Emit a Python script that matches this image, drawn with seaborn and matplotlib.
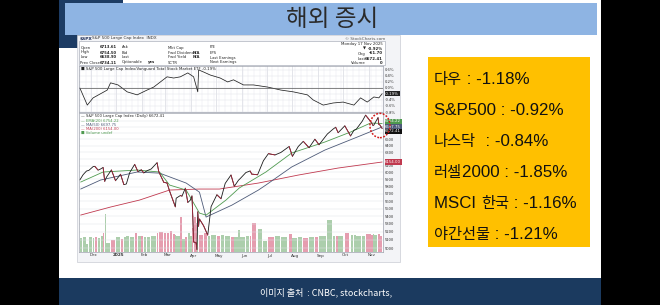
import re
import numpy as np
import pandas as pd
import matplotlib
matplotlib.use("Agg")
import matplotlib.pyplot as plt
import matplotlib.dates as mdates
from matplotlib.patches import Rectangle, Ellipse
from matplotlib.ticker import FixedLocator, NullLocator, FuncFormatter
import matplotlib.transforms as mtransforms
import seaborn as sns

# ---------------- data ----------------
price_dates = ["2024-11-18", "2024-11-22", "2024-11-26", "2024-11-29", "2024-12-04", "2024-12-06",
               "2024-12-10", "2024-12-13", "2024-12-16", "2024-12-18", "2024-12-20", "2024-12-26",
               "2024-12-31", "2025-01-06", "2025-01-10", "2025-01-13", "2025-01-17", "2025-01-23",
               "2025-01-27", "2025-01-31", "2025-02-03", "2025-02-07", "2025-02-12", "2025-02-19",
               "2025-02-21", "2025-02-27", "2025-03-03", "2025-03-06", "2025-03-10", "2025-03-13",
               "2025-03-14", "2025-03-19", "2025-03-21", "2025-03-25", "2025-03-28", "2025-03-31",
               "2025-04-02", "2025-04-03", "2025-04-04", "2025-04-07", "2025-04-08", "2025-04-09",
               "2025-04-10", "2025-04-11", "2025-04-16", "2025-04-21", "2025-04-25", "2025-05-02",
               "2025-05-07", "2025-05-12", "2025-05-19", "2025-05-23", "2025-05-28", "2025-05-30",
               "2025-06-06", "2025-06-11", "2025-06-13", "2025-06-20", "2025-06-27", "2025-07-03",
               "2025-07-11", "2025-07-18", "2025-07-28", "2025-08-01", "2025-08-08", "2025-08-14",
               "2025-08-21", "2025-08-28", "2025-09-02", "2025-09-12", "2025-09-19", "2025-09-22",
               "2025-09-25", "2025-10-03", "2025-10-10", "2025-10-14", "2025-10-17", "2025-10-24",
               "2025-10-28", "2025-10-31", "2025-11-04", "2025-11-06", "2025-11-07", "2025-11-12",
               "2025-11-13", "2025-11-14", "2025-11-17"]
spx_close = [5893, 5969, 6021, 6032, 6086, 6090, 6034, 6051, 6074, 5872, 5931, 6037,
             5882, 5975, 5827, 5836, 5997, 6119, 6012, 6040, 5994, 6026, 6052, 6144,
             6013, 5861, 5849, 5739, 5614, 5522, 5639, 5675, 5667, 5777, 5581, 5612,
             5671, 5396, 5074, 5062, 4982, 5457, 5268, 5363, 5276, 5158, 5525, 5686,
             5631, 5844, 5964, 5803, 5889, 5912, 6000, 6022, 5977, 5967, 6173, 6279,
             6260, 6297, 6389, 6238, 6389, 6469, 6370, 6502, 6416, 6584, 6664, 6693,
             6605, 6716, 6553, 6644, 6664, 6791, 6891, 6840, 6771, 6720, 6728, 6851,
             6737, 6734, 6672.41]
spx_volume = [4.6, 4.4, 4.7, 2.6, 4.8, 4.5, 4.6, 4.4, 4.9, 6.0, 12.0, 2.9,
              3.9, 4.7, 4.2, 4.6, 4.9, 4.8, 5.8, 5.0, 5.1, 4.6, 4.7, 4.9,
              6.0, 6.2, 6.0, 5.9, 6.6, 5.7, 5.2, 5.0, 11.0, 4.2, 4.8, 5.9,
              5.0, 7.5, 10.5, 10.8, 9.0, 10.9, 8.0, 6.5, 5.4, 5.8, 5.0, 5.2,
              4.9, 5.4, 5.0, 4.7, 4.6, 7.0, 4.8, 4.9, 5.0, 9.0, 7.2, 3.5,
              4.7, 4.9, 4.8, 5.5, 4.4, 4.6, 4.5, 4.7, 4.8, 4.9, 10.0, 5.1,
              5.0, 4.9, 5.8, 5.2, 5.4, 4.9, 5.1, 5.5, 5.6, 5.3, 5.5, 5.2,
              5.7, 5.5, 5.1]

ema_dates = ["2024-11-19", "2024-12-16", "2025-01-26", "2025-02-22", "2025-03-06", "2025-03-26",
             "2025-04-11", "2025-04-19", "2025-05-13", "2025-05-29", "2025-06-30", "2025-07-31",
             "2025-09-09", "2025-10-10", "2025-11-03", "2025-11-17"]
ema_fast = [5863, 6007, 6036, 6007, 5821, 5751, 5440, 5413, 5614, 5780, 6007, 6289,
            6458, 6616, 6761, 6754.22]

ma50_dates = ["2024-11-19", "2024-12-13", "2025-01-26", "2025-02-22", "2025-03-26", "2025-04-11",
              "2025-04-19", "2025-05-20", "2025-06-21", "2025-06-30", "2025-07-31", "2025-09-09",
              "2025-10-18", "2025-11-17"]
ma50 = [5765, 5892, 6007, 5991, 5849, 5722, 5388, 5545, 5751, 5821, 6080, 6334, 6536, 6697.75]

ma200_dates = ["2024-11-19", "2024-12-25", "2025-01-29", "2025-03-06", "2025-04-11", "2025-05-05",
               "2025-06-21", "2025-08-08", "2025-09-25", "2025-11-17"]
ma200 = [5414, 5520, 5614, 5751, 5765, 5765, 5849, 5963, 6065, 6154]

rs_dates = ["2024-11-18", "2024-11-27", "2024-12-04", "2024-12-21", "2024-12-25", "2025-01-03",
            "2025-01-14", "2025-01-26", "2025-02-07", "2025-02-15", "2025-02-23", "2025-03-03",
            "2025-03-11", "2025-03-19", "2025-03-28", "2025-04-04", "2025-04-09", "2025-04-10",
            "2025-04-16", "2025-04-24", "2025-05-06", "2025-05-15", "2025-05-22", "2025-06-03",
            "2025-06-15", "2025-07-02", "2025-07-18", "2025-08-02", "2025-08-19", "2025-08-26",
            "2025-09-07", "2025-09-19", "2025-10-01", "2025-10-14", "2025-10-22", "2025-10-30",
            "2025-11-07", "2025-11-13", "2025-11-17"]
rs_pct = [0.0, -0.57, -0.33, -0.07, 0.17, 0.10, -0.13, -0.23, -0.07, 0.03, 0.20, 0.37,
          0.33, 0.37, 0.50, 0.37, -0.13, 0.60, 0.53, 0.43, 0.33, 0.20, 0.27, 0.10,
          0.10, 0.03, -0.07, -0.13, -0.23, -0.40, -0.57, -0.50, -0.47, -0.57, -0.33, -0.47,
          -0.30, -0.33, -0.19]

month_starts = ["2024-12-01", "2025-01-01", "2025-02-01", "2025-03-01", "2025-04-01", "2025-05-01",
                "2025-06-01", "2025-07-01", "2025-08-01", "2025-09-01", "2025-10-01", "2025-11-01"]
month_labels = ["Dec", "2025", "Feb", "Mar", "Apr", "May", "Jun", "Jul", "Aug", "Sep", "Oct", "Nov"]
price_ticks = list(range(5000, 6900, 100))
rs_ticks = [0.6, 0.4, 0.2, 0.0, -0.2, -0.4, -0.6, -0.8]

quote_rows = [("Open", "6713.61", "Ask", "", "Mkt Cap", "", "P/E"),
              ("High", "6754.50", "Bid", "", "Fwd Dividend", "N/A", "EPS"),
              ("Low", "6638.90", "Last", "", "Fwd Yield", "N/A", "Last Earnings"),
              ("Prev Close", "6734.11", "Optionable", "yes", "SCTR", "", "Next Earnings")]
quote_right = [("", "Monday 17 Nov 2025"), ("\u25BC", "-0.92%"), ("Chg", "-61.70"),
               ("Last", "6672.41"), ("Volume", "0")]

index_moves = ["다우 : -1.18%", "S&P500 : -0.92%", "나스닥  : -0.84%",
               "러셀2000 : -1.85%", "MSCI 한국 : -1.16%", "야간선물 : -1.21%"]

# ---------------- style ----------------
sns.set_style("white")
plt.rcParams["font.family"] = ["Noto Sans CJK KR", "DejaVu Sans"]
plt.rcParams["axes.unicode_minus"] = False

W, H = 660, 305
fig = plt.figure(figsize=(W / 100, H / 100), dpi=100, facecolor="black")
renderer = fig.canvas.get_renderer()


def frac_box(x0, y0, x1, y1):
    return [x0 / W, 1 - y1 / H, (x1 - x0) / W, (y1 - y0) / H]


def rect(x0, y0, x1, y1, **kw):
    fig.patches.append(Rectangle((x0 / W, 1 - y1 / H), (x1 - x0) / W, (y1 - y0) / H,
                                 transform=fig.transFigure, **kw))


def ftext(x, y, s, **kw):
    return fig.text(x / W, 1 - y / H, s, **kw)


def mixed_line(x, baseline, s, latin_size, hangul_size, color):
    """Write a line whose Hangul runs are set a little smaller than the Latin runs."""
    for run in re.findall(r"[\uac00-\ud7a3]+|[^\uac00-\ud7a3]+", s):
        is_kr = bool(re.match(r"[\uac00-\ud7a3]", run))
        t = ftext(x, baseline, run, fontsize=hangul_size if is_kr else latin_size,
                  family="Noto Sans CJK KR" if is_kr else "Liberation Sans",
                  color=color, ha="left", va="baseline", zorder=2)
        x += t.get_window_extent(renderer).width


NAVY = "#1b3a5f"
# slide background
rect(59, 0, 601, 305, facecolor="white", edgecolor="none", zorder=0)
rect(59, 278, 601, 305, facecolor=NAVY, edgecolor="none", zorder=0)
rect(59, 0, 123, 48, facecolor="#1d3c64", edgecolor="none", zorder=0)
rect(65, 3, 597, 35, facecolor="#8eb4e3", edgecolor="none", zorder=1)
ftext(332, 19, "해외 증시", fontsize=17, color="#2a2a2a", ha="center", va="center",
      fontweight="light", zorder=2)
ftext(326, 292, "이미지 출처  : CNBC, stockcharts,", fontsize=6.5, color="white",
      family=["Noto Sans CJK KR", "Liberation Sans"], ha="center", va="center")

# summary box of index moves
rect(428, 57, 590, 247, facecolor="#ffc000", edgecolor="none", zorder=1)
for i, line in enumerate(index_moves):
    mixed_line(434, 84 + i * 31, line, 12.2, 11.0, "#111111")

# ---------------- stock chart ----------------
SC = "DejaVu Sans"
rect(77, 35, 400, 262, facecolor="#f3f4f7", edgecolor="#c9ccd4", linewidth=0.5, zorder=1)
rect(79, 41, 385, 65, facecolor="white", edgecolor="#9aa0ac", linewidth=0.4, zorder=2)
ftext(80, 38.5, "$SPX", fontsize=3.2, fontweight="bold", family=SC, color="#1a2a55", va="center", zorder=3)
ftext(92, 38.5, "S&P 500 Large Cap Index  INDX", fontsize=3.0, family=SC, color="#333", va="center", zorder=3)
ftext(385, 38.5, "\u00A9 StockCharts.com", fontsize=3.0, family=SC, color="#555", ha="right", va="center", zorder=3)

col_x = [80.5, 100, 122, 148, 168, 193, 210]
for r, row in enumerate(quote_rows):
    yy = 47.5 + r * 5
    for c, s in enumerate(row):
        if not s:
            continue
        bold = c in (1, 3, 5)
        ftext(col_x[c], yy, s, fontsize=2.7, family=SC, color="#222",
              fontweight="bold" if bold else "normal",
              ha="left", va="center", zorder=3)
for r, (lab, val) in enumerate(quote_right):
    yy = 43.5 + r * 5
    ftext(383, yy, val, fontsize=2.8, family=SC, color="#222",
          fontweight="bold" if r else "normal", ha="right", va="center", zorder=3)
    if lab:
        ftext(366, yy, lab, fontsize=2.8, family=SC, color="#222", ha="right", va="center", zorder=3)

start, end = pd.Timestamp("2024-11-17"), pd.Timestamp("2025-11-18")
weeks = pd.date_range("2024-11-18", "2025-11-17", freq="W-MON")
months = pd.to_datetime(month_starts)

# relative strength panel
ax_rs = fig.add_axes(frac_box(79, 66, 383, 112))
ax_rs.set_zorder(5)
rs_df = pd.DataFrame({"date": pd.to_datetime(rs_dates), "pct": rs_pct})
sns.lineplot(data=rs_df, x="date", y="pct", ax=ax_rs, color="#222222", linewidth=0.55)
ax_rs.axhline(0, color="#555555", linewidth=0.5)
ax_rs.set_ylim(-0.8, 0.73)

# price panel with volume underneath
ax = fig.add_axes(frac_box(79, 113, 383, 252))
axv = ax.twinx()
axv.set_zorder(4)
ax.set_zorder(6)
ax.patch.set_visible(False)
axv.patch.set_visible(True)
axv.patch.set_facecolor("white")
px = pd.DataFrame({"date": pd.to_datetime(price_dates), "close": spx_close, "vol": spx_volume})
gaps = px["date"].diff().dt.days.fillna(4).to_numpy()
up = px["close"].diff().fillna(1).to_numpy() >= 0
vol_colors = np.where(up, "#a3c9a3", "#e393a6")
axv.bar(px["date"] - pd.to_timedelta(gaps, unit="D"), px["vol"], width=gaps * 0.8,
        align="edge", color=vol_colors, edgecolor="none", alpha=0.9)
axv.set_ylim(0, 43.4)
axv.yaxis.set_major_locator(NullLocator())

sns.lineplot(x=pd.to_datetime(ma200_dates), y=ma200, ax=ax, color="#c0394f", linewidth=0.6)
sns.lineplot(x=pd.to_datetime(ma50_dates), y=ma50, ax=ax, color="#4d5a78", linewidth=0.6)
sns.lineplot(x=pd.to_datetime(ema_dates), y=ema_fast, ax=ax, color="#4f9a4f", linewidth=0.6)
sns.lineplot(data=px, x="date", y="close", ax=ax, color="#1a1a1a", linewidth=0.6)
for i in range(1, len(px)):
    if not up[i]:
        ax.plot(px["date"].iloc[i - 1:i + 1], px["close"].iloc[i - 1:i + 1],
                color="#a8283c", linewidth=0.6)
ax.set_yscale("log")
ax.set_ylim(4952, 6927)

for a in (ax_rs, ax, axv):
    a.set_xlim(start, end)
    a.set_xlabel("")
    a.set_ylabel("")
for a in (ax_rs, axv):
    a.xaxis.set_major_locator(FixedLocator([mdates.date2num(d) for d in months]))
    a.xaxis.set_minor_locator(FixedLocator([mdates.date2num(d) for d in weeks]))
    a.grid(True, axis="x", which="minor", color="#e7e9ef", linewidth=0.35)
    a.grid(True, axis="x", which="major", color="#d4d7df", linewidth=0.45)
    a.tick_params(axis="x", which="both", length=0, labelbottom=False)
ax.xaxis.set_major_locator(NullLocator())
ax.xaxis.set_minor_locator(NullLocator())
ax_rs.set_facecolor("white")
for a in (ax_rs, ax):
    a.grid(True, axis="y", which="major", color="#e2e4ea", linewidth=0.35)
    a.yaxis.tick_right()
    a.tick_params(axis="y", which="both", length=0, labelsize=3, pad=1.5, colors="#333333")
    for s in a.spines.values():
        s.set_color("#8a8f9c")
        s.set_linewidth(0.4)
for s in axv.spines.values():
    s.set_visible(False)

# last-value tags: stacked where they would collide, covering the tick labels beneath
tags_price = [(ema_fast[-1], "#4f9a4f", 1.6), (ma50[-1], "#4d5a78", 0.0),
              (spx_close[-1], "#111111", -1.9), (ma200[-1], "#c0394f", 0.0)]
tags_rs = [(rs_pct[-1], "#222222", 0.0)]


def tag_y(a, v, off_pt):
    return a.transData.transform((0, v))[1] + off_pt * 100 / 72


def visible_label(a, tags, v, fmt):
    y = a.transData.transform((0, v))[1]
    if any(abs(y - tag_y(a, tv, off)) < 3.6 for tv, _, off in tags):
        return ""
    return fmt(v)


ax_rs.yaxis.set_major_locator(FixedLocator(rs_ticks))
ax_rs.yaxis.set_major_formatter(FuncFormatter(
    lambda v, p: visible_label(ax_rs, tags_rs, v, lambda u: f"{u:.1f}%")))
ax.yaxis.set_major_locator(FixedLocator(price_ticks))
ax.yaxis.set_minor_locator(NullLocator())
ax.yaxis.set_major_formatter(FuncFormatter(
    lambda v, p: visible_label(ax, tags_price, v, lambda u: f"{u:.0f}")))


def tag(a, v, s, fc, off_pt):
    a.annotate(s, xy=(1.0, v), xycoords=("axes fraction", "data"), xytext=(1.5, off_pt),
               textcoords="offset points", fontsize=2.8, family=SC, color="white", va="center",
               ha="left", bbox=dict(boxstyle="square,pad=0.15", fc=fc, ec="none"), zorder=6,
               annotation_clip=False)


for v, c, off in tags_rs:
    tag(ax_rs, v, f"{v:.2f}%", c, off)
for v, c, off in tags_price:
    tag(ax, v, f"{v:.2f}", c, off)

# legends inside panels
ax_rs.text(0.005, 0.93, "\u25A0 S&P 500 Large Cap Index/Vanguard Total Stock Market ETF -0.19%",
           transform=ax_rs.transAxes, fontsize=2.8, family=SC, color="#222", va="center")
legend_lines = [("\u2014 S&P 500 Large Cap Index (Daily) 6672.41", "#222222"),
                ("\u2014 EMA(20) 6754.22", "#4f9a4f"),
                ("\u2014 MA(50) 6697.75", "#4d5a78"),
                ("\u2014 MA(200) 6154.00", "#c0394f"),
                ("\u25A0 Volume undef", "#4f9a4f")]
for i, (s, c) in enumerate(legend_lines):
    ax.text(0.005, 0.975 - i * 0.029, s, transform=ax.transAxes, fontsize=2.7, family=SC,
            color=c, va="center")

# highlight around the latest pullback
ax.add_patch(Ellipse((0.99, 0.91), 0.066, 0.175, transform=ax.transAxes, fill=False,
                     edgecolor="#d11a1a", linestyle=(0, (1.2, 1.0)), linewidth=1.1,
                     clip_on=False, zorder=7))

# month labels under the price panel
trans = mtransforms.blended_transform_factory(ax.transData, fig.transFigure)
for d, lab in zip(months, month_labels):
    ax.text(d + pd.Timedelta(days=3), 1 - 255.5 / H, lab, transform=trans, fontsize=3,
            family=SC, color="#333", ha="center", va="center",
            fontweight="bold" if lab.isdigit() else "normal")

fig.savefig("out.png", dpi=100, facecolor=fig.get_facecolor())
